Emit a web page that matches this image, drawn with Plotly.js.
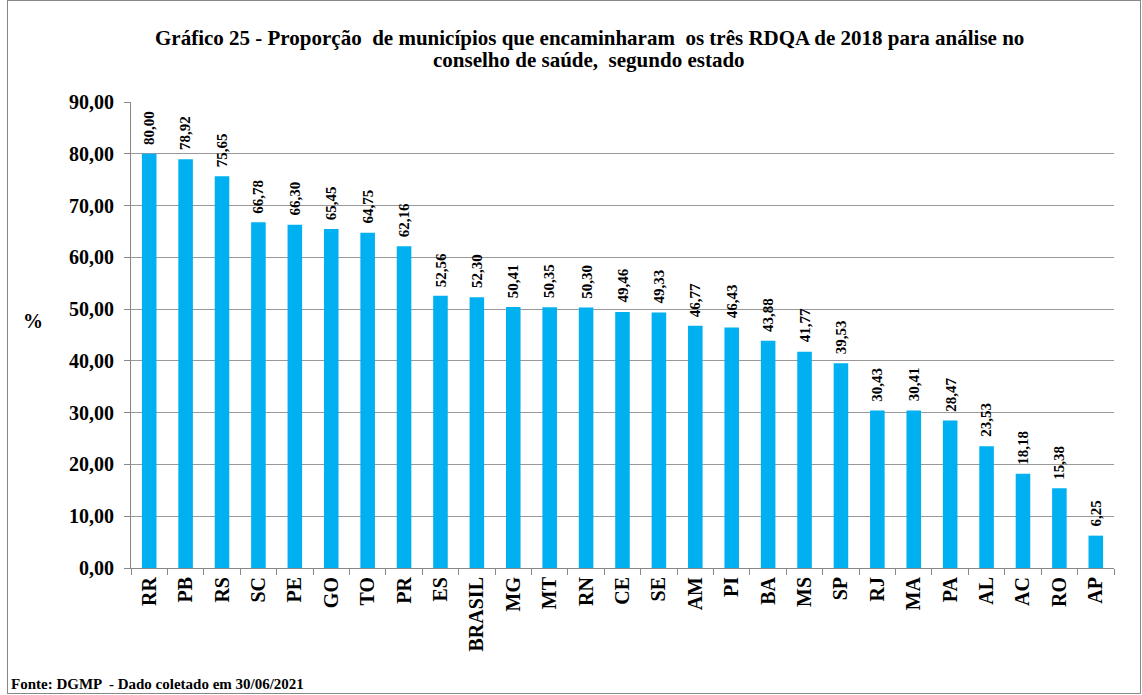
<!DOCTYPE html>
<html>
<head>
<meta charset="utf-8">
<script src="https://cdn.plot.ly/plotly-3.0.1.min.js"></script>
<style>
  html, body { margin: 0; padding: 0; background: #fff; }
  #chart { width: 1142px; height: 695px; }
</style>
</head>
<body>
<div id="chart"></div>
<script>
const estados = ["RR", "PB", "RS", "SC", "PE", "GO", "TO", "PR", "ES", "BRASIL", "MG", "MT", "RN", "CE", "SE",
  "AM", "PI", "BA", "MS", "SP", "RJ", "MA", "PA", "AL", "AC", "RO", "AP"]
const proporcao = [80.00, 78.92, 75.65, 66.78, 66.30, 65.45, 64.75, 62.16, 52.56, 52.30, 50.41, 50.35, 50.30, 49.46, 49.33,
  46.77, 46.43, 43.88, 41.77, 39.53, 30.43, 30.41, 28.47, 23.53, 18.18, 15.38, 6.25]
const yTicks = [0, 10, 20, 30, 40, 50, 60, 70, 80, 90]

const fmt = v => v.toFixed(2).replace(".", ",")
const serif = "'Liberation Serif', 'Times New Roman', serif"

const trace = {
  type: "bar",
  x: estados,
  y: proporcao,
  marker: { color: "#00b0f0" },
  hoverinfo: "x+y",
}

// rotated value labels above each bar
const valueLabels = estados.map((e, i) => ({
  x: e,
  y: proporcao[i],
  xref: "x",
  yref: "y",
  text: "<b>" + fmt(proporcao[i]) + "</b>",
  textangle: -90,
  showarrow: false,
  xanchor: "center",
  yanchor: "bottom",
  yshift: 7,
  font: { family: serif, size: 15, color: "#000" },
}))

const layout = {
  width: 1142,
  height: 695,
  margin: { l: 131, r: 28, t: 102, b: 127 },
  paper_bgcolor: "#fff",
  plot_bgcolor: "#fff",
  bargap: 0.6,
  showlegend: false,
  font: { family: serif, color: "#000" },
  annotations: [
    ...valueLabels,
    {
      text: "<b>Gráfico 25 - Proporção  de municípios que encaminharam  os três RDQA de 2018 para análise no</b>",
      xref: "paper", yref: "paper", x: 0.466, y: 1.138,
      xanchor: "center", yanchor: "middle", showarrow: false,
      font: { family: serif, size: 21, color: "#000" },
    },
    {
      text: "<b>conselho de saúde,  segundo estado</b>",
      xref: "paper", yref: "paper", x: 0.466, y: 1.09,
      xanchor: "center", yanchor: "middle", showarrow: false,
      font: { family: serif, size: 21, color: "#000" },
    },
    {
      text: "<b>%</b>",
      xref: "paper", yref: "paper", x: -0.1, y: 0.53,
      xanchor: "center", yanchor: "middle", showarrow: false,
      font: { family: serif, size: 20, color: "#000" },
    },
    {
      text: "<b>Fonte: DGMP  - Dado coletado em 30/06/2021</b>",
      xref: "paper", yref: "paper", x: -0.124, y: -0.248,
      xanchor: "left", yanchor: "middle", showarrow: false,
      font: { family: serif, size: 15, color: "#000" },
    },
  ],
  xaxis: {
    type: "category",
    tickangle: -90,
    tickfont: { family: serif, size: 20, color: "#000", weight: "bold" },
    ticks: "outside",
    tickson: "boundaries",
    ticklen: 6,
    tickcolor: "#888",
    showline: true,
    linecolor: "#888",
    linewidth: 1,
    showgrid: false,
    automargin: false,
  },
  yaxis: {
    range: [0, 90],
    tickvals: yTicks,
    ticktext: yTicks.map(fmt),
    tickfont: { family: serif, size: 20, color: "#000", weight: "bold" },
    ticks: "outside",
    ticklen: 6,
    tickcolor: "#888",
    ticklabelstandoff: 6,
    showline: true,
    linecolor: "#888",
    gridcolor: "#999",
    gridwidth: 1,
    zeroline: false,
    automargin: false,
  },
}

Plotly.newPlot("chart", [trace], layout, { displayModeBar: false, staticPlot: true }).then(() => {
  // outer chart frame
  const svg = document.querySelector("#chart .main-svg")
  const r = document.createElementNS("http://www.w3.org/2000/svg", "rect")
  r.setAttribute("x", 7.5); r.setAttribute("y", 0.5)
  r.setAttribute("width", 1133); r.setAttribute("height", 693)
  r.setAttribute("fill", "none"); r.setAttribute("stroke", "#888")
  svg.appendChild(r)
})
</script>
</body>
</html>
